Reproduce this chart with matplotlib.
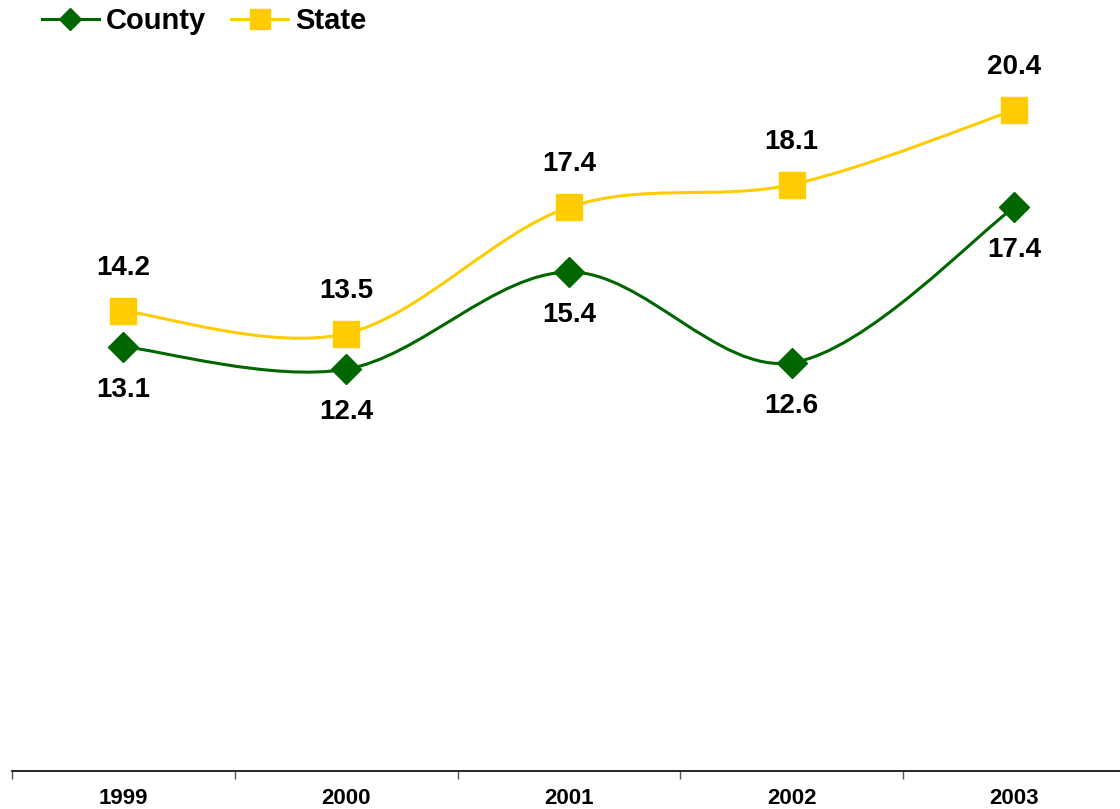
import numpy as np
import matplotlib
matplotlib.use("Agg")
import matplotlib.pyplot as plt
from matplotlib.path import Path
from matplotlib.patches import PathPatch
from matplotlib.lines import Line2D

plt.rcParams['font.family'] = ['Liberation Sans', 'DejaVu Sans']
plt.rcParams['font.weight'] = 'bold'

years = ['1999', '2000', '2001', '2002', '2003']
county = [13.1, 12.4, 15.4, 12.6, 17.4]
state = [14.2, 13.5, 17.4, 18.1, 20.4]

GREEN = '#006600'
YELLOW = '#FFCC00'


def smooth_path(xs, ys):
    # excel-style smoothed line: bezier segments with catmull-rom control points
    pts = np.column_stack([xs, ys]).astype(float)
    n = len(pts)
    verts = [pts[0]]
    codes = [Path.MOVETO]
    for i in range(n - 1):
        p0 = pts[i - 1] if i > 0 else pts[i]
        p1 = pts[i]
        p2 = pts[i + 1]
        p3 = pts[i + 2] if i + 2 < n else pts[i + 1]
        c1 = p1 + (p2 - p0) / 6.0
        c2 = p2 - (p3 - p1) / 6.0
        verts += [c1, c2, p2]
        codes += [Path.CURVE4] * 3
    return Path(verts, codes)


fig = plt.figure(figsize=(11.2, 8.09), dpi=100)
ax = fig.add_axes([12 / 1120, 38 / 809, 1113.75 / 1120, 777.6 / 809])
x = np.arange(len(years))

for vals, color, marker, msize in [(county, GREEN, 'D', 15), (state, YELLOW, 's', 19)]:
    ax.add_patch(PathPatch(smooth_path(x, vals), facecolor='none', edgecolor=color, lw=2.2, zorder=2))
    ax.plot(x, vals, linestyle='none', marker=marker, markersize=msize, color=color, zorder=3)

for xi, v in zip(x, county):
    ax.annotate(f'{v:.1f}', (xi, v), xytext=(0, -31), textcoords='offset points',
                ha='center', va='center', fontsize=20, fontweight='bold')
for xi, v in zip(x, state):
    ax.annotate(f'{v:.1f}', (xi, v), xytext=(0, 31), textcoords='offset points',
                ha='center', va='center', fontsize=20, fontweight='bold')

ax.set_xlim(-0.5, len(years) - 0.5)
ax.set_ylim(0, 24)
ax.set_xticks(x)
ax.set_xticklabels(years, fontsize=16, fontweight='bold')
ax.set_xticks(np.arange(-0.5, len(years)), minor=True)
ax.tick_params(axis='x', which='major', length=0, pad=12)
ax.tick_params(axis='x', which='minor', length=6, width=1, color='#555555')
ax.set_yticks([])
for s in ['left', 'right', 'top']:
    ax.spines[s].set_visible(False)
ax.spines['bottom'].set_linewidth(1.2)

handles = [
    Line2D([], [], color=GREEN, lw=2.2, marker='D', markersize=11),
    Line2D([], [], color=YELLOW, lw=2.2, marker='s', markersize=14.5),
]
fig.legend(handles, ['County', 'State'], loc='center left', bbox_to_anchor=(42 / 1120, 1 - 21 / 809),
           ncol=2, frameon=False, prop={'size': 21, 'weight': 'bold'}, borderpad=0, borderaxespad=0,
           handlelength=1.95, handletextpad=0.25, columnspacing=0.85)

fig.savefig('out.png', dpi=100)
